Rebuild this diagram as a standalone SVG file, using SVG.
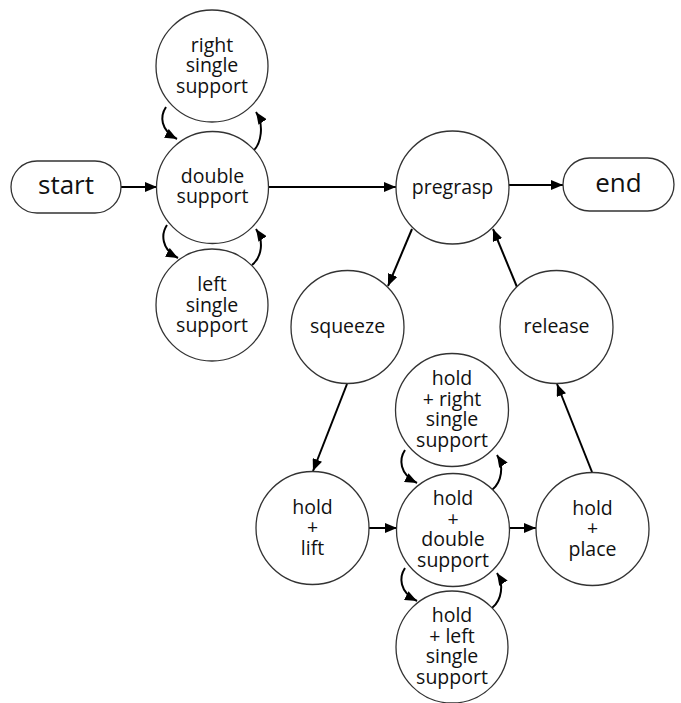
<svg xmlns="http://www.w3.org/2000/svg" width="681" height="703" viewBox="0 0 681 703">
<defs>
<marker id="ah" markerUnits="userSpaceOnUse" markerWidth="12" markerHeight="10" refX="12" refY="5" orient="auto">
<path d="M0,0 L12,5 L0,10 z" fill="#000"/>
</marker>
<style>
.n{fill:#fff;stroke:#333;stroke-width:1.3}
.t{font-family:"Open Sans","Noto Sans",sans-serif;font-size:19.5px;fill:#111;text-anchor:middle}
.b{font-size:26px}
.e{fill:none;stroke:#000;stroke-width:2;marker-end:url(#ah)}
</style>
</defs>
<rect width="681" height="703" fill="#fff"/>
<g id="connectors">
<path class="e" d="M121,187 L157,187"/>
<path class="e" d="M268,187 L396,187"/>
<path class="e" d="M509,185 L563,185"/>
<path class="e" d="M412,229 L388,286"/>
<path class="e" d="M517,287 L493,229"/>
<path class="e" d="M347,384 L313,471"/>
<path class="e" d="M592,472 L557,384"/>
<path class="e" d="M369,528 L397,528"/>
<path class="e" d="M509,528 L536,528"/>
<path class="e" d="M166,107 C160,116 160,130 177,139"/>
<path class="e" d="M252,152 C262,144 264,124 256,112"/>
<path class="e" d="M167,225 C161,234 161,249 178,258"/>
<path class="e" d="M252,265 C262,257 264,241 256,229"/>
<path class="e" d="M405,450 C399,459 399,474 417,483"/>
<path class="e" d="M492,490 C502,482 504,466 497,455"/>
<path class="e" d="M405,568 C399,577 399,592 417,601"/>
<path class="e" d="M492,608 C502,600 504,584 497,573"/>
</g>
<g id="start"><rect class="n" x="11" y="161" width="110" height="52" rx="26"/><text class="t b" x="66" y="194">start</text></g>
<g id="end"><rect class="n" x="563" y="158" width="111" height="53" rx="26.5"/><text class="t b" x="618.5" y="192">end</text></g>
<g id="right-single-support"><circle class="n" cx="212" cy="66" r="56"/><text class="t" x="212"><tspan x="212" y="51.5">right</tspan><tspan x="212" y="72">single</tspan><tspan x="212" y="92.5">support</tspan></text></g>
<g id="double-support"><circle class="n" cx="212.5" cy="187.5" r="56"/><text class="t"><tspan x="212.5" y="183">double</tspan><tspan x="212.5" y="203">support</tspan></text></g>
<g id="left-single-support"><circle class="n" cx="212" cy="305" r="56"/><text class="t"><tspan x="212" y="291">left</tspan><tspan x="212" y="311.5">single</tspan><tspan x="212" y="332">support</tspan></text></g>
<g id="pregrasp"><circle class="n" cx="452.5" cy="187.5" r="56.5"/><text class="t" x="452.5" y="193.5">pregrasp</text></g>
<g id="squeeze"><circle class="n" cx="347.5" cy="327" r="56.5"/><text class="t" x="347.5" y="333">squeeze</text></g>
<g id="release"><circle class="n" cx="556.5" cy="327" r="56.5"/><text class="t" x="556.5" y="333">release</text></g>
<g id="hold-right-single-support"><circle class="n" cx="452" cy="410" r="56.5"/><text class="t"><tspan x="452" y="385">hold</tspan><tspan x="452" y="405.5">+ right</tspan><tspan x="452" y="426">single</tspan><tspan x="452" y="446.5">support</tspan></text></g>
<g id="hold-lift"><circle class="n" cx="312.5" cy="528" r="56.5"/><text class="t"><tspan x="312.5" y="513.5">hold</tspan><tspan x="312.5" y="534">+</tspan><tspan x="312.5" y="554.5">lift</tspan></text></g>
<g id="hold-double-support"><circle class="n" cx="453" cy="530" r="56.5"/><text class="t"><tspan x="453" y="505">hold</tspan><tspan x="453" y="525.5">+</tspan><tspan x="453" y="546">double</tspan><tspan x="453" y="566.5">support</tspan></text></g>
<g id="hold-place"><circle class="n" cx="592.5" cy="529" r="56.5"/><text class="t"><tspan x="592.5" y="514.5">hold</tspan><tspan x="592.5" y="535">+</tspan><tspan x="592.5" y="555.5">place</tspan></text></g>
<g id="hold-left-single-support"><circle class="n" cx="452" cy="647" r="56"/><text class="t"><tspan x="452" y="622">hold</tspan><tspan x="452" y="642.5">+ left</tspan><tspan x="452" y="663">single</tspan><tspan x="452" y="683.5">support</tspan></text></g>
</svg>
